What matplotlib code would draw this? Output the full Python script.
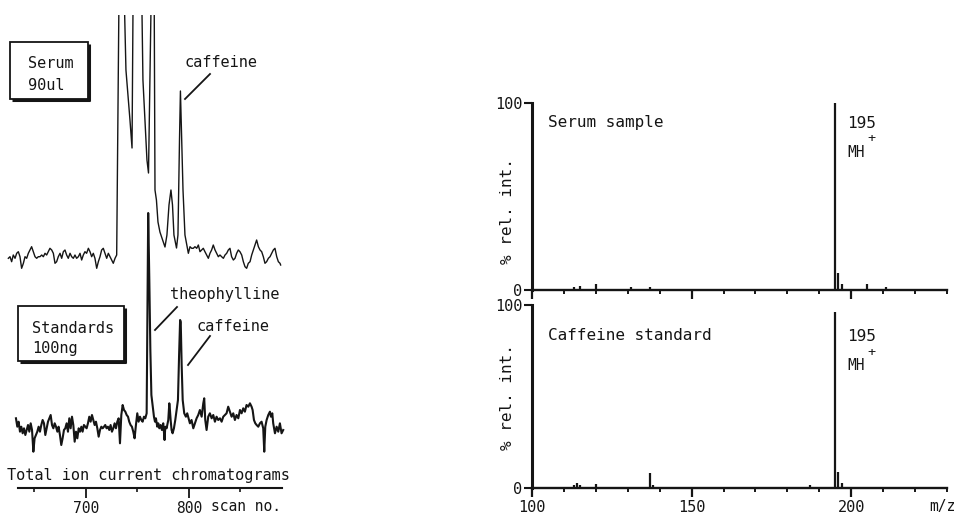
import numpy as np
import matplotlib
matplotlib.use("Agg")
import matplotlib.pyplot as plt
from matplotlib.patches import Rectangle

# ---------------- data ----------------
# Total ion current chromatograms: (scan number, intensity in arbitrary units)
serum_tic = [
    (624.6, 13.7), (626.2, 15.3), (627.8, 10.3), (629.4, 17), (631.1, 13.7), (632.7, 18.7),
    (634.3, 20.3), (635.9, 15.3), (637.5, 3.7), (639.2, 8.7), (640.8, 15.3), (642.4, 13.7),
    (644.0, 18.7), (645.6, 22), (647.2, 25.3), (648.9, 20.3), (650.5, 15.3), (652.1, 13.7),
    (653.7, 15.3), (655.3, 15.3), (657.0, 17), (658.6, 15.3), (660.2, 18.7), (661.8, 17),
    (663.4, 20.3), (665.0, 23.7), (666.7, 22), (668.3, 18.7), (669.9, 8.7), (671.5, 10.3),
    (673.1, 15.3), (674.8, 18.7), (676.4, 13.7), (678.0, 20.3), (679.6, 22), (681.2, 17),
    (682.8, 13.7), (684.5, 18.7), (686.1, 15.3), (687.7, 13.7), (689.3, 17), (690.9, 13.7),
    (692.6, 15.3), (694.2, 18.7), (695.8, 12), (697.4, 17), (699.0, 20.3), (700.6, 18.7),
    (702.3, 23.7), (703.9, 20.3), (705.5, 15.3), (707.1, 18.7), (708.7, 13.7), (710.4, 3.7),
    (712.0, 10.3), (713.6, 15.3), (715.2, 22), (716.8, 23.7), (718.4, 18.7), (720.1, 13.7),
    (721.7, 18.7), (723.3, 15.3), (724.9, 12), (726.5, 8.7), (728.2, 13.7), (729.8, 17),
    (732.5, 330), (735.9, 330), (738.8, 202), (740.8, 177), (742.7, 152), (744.7, 124),
    (746.1, 330), (753.4, 330), (755.3, 192), (757.3, 152), (759.2, 112), (760.7, 99),
    (764.1, 330), (766.0, 330), (767.0, 82), (768.4, 72), (769.9, 50), (771.8, 40),
    (773.8, 34), (776.7, 25), (778.6, 37), (780.6, 67), (782.5, 82), (784.0, 67),
    (785.4, 37), (787.9, 24), (789.3, 37), (790.8, 132), (791.7, 181), (792.7, 142),
    (794.2, 82), (796.1, 37),
    (799.4, 18.7), (801.0, 25.3), (802.6, 23.7), (804.2, 23.7), (805.8, 25.3), (807.5, 23.7),
    (809.1, 27), (810.7, 20.3), (812.3, 22), (813.9, 23.7), (815.5, 20.3), (817.2, 17),
    (818.8, 13.7), (820.4, 18.7), (822.0, 22), (823.6, 27), (825.3, 22), (826.9, 18.7),
    (828.5, 15.3), (830.1, 17), (831.7, 15.3), (833.4, 13.7), (835.0, 17), (836.6, 18.7),
    (838.2, 22), (839.8, 23.7), (841.4, 15.3), (843.1, 12), (844.7, 13.7), (846.3, 18.7),
    (847.9, 22), (849.5, 20.3), (851.2, 17), (852.8, 10.3), (854.4, 5.3), (856.0, 3.7),
    (857.6, 8.7), (859.3, 10.3), (860.9, 17), (862.5, 22), (864.1, 27), (865.7, 32),
    (867.4, 25.3), (869.0, 22), (870.6, 20.3), (872.2, 15.3), (873.8, 8.7), (875.4, 10.3),
    (877.1, 13.7), (878.7, 15.3), (880.3, 18.7), (881.9, 22), (883.5, 23.7), (885.2, 15.3),
    (886.8, 10.3), (888.4, 8.7), (889.0, 7),
]

standards_tic = [
    (632.0, 21.7), (633.3, 13.3), (634.6, 18.3), (635.9, 8.3), (637.2, 13.3), (638.5, 6.7),
    (639.8, 11.7), (641.1, 5), (642.4, 10), (643.7, 15), (645.0, 8.3), (646.3, 16.7),
    (647.6, 10), (648.9, -11.7), (650.1, 1.7), (651.4, 5), (652.7, 8.3), (654.0, 13.3),
    (655.3, 8.3), (656.6, 15), (657.9, 20), (659.2, 16.7), (660.5, 5), (661.8, 11.7),
    (663.1, 18.3), (664.4, 21.7), (665.7, 25), (667.0, 15), (668.3, 11.7), (669.6, 16.7),
    (670.9, 13.3), (672.2, 8.3), (673.4, 13.3), (674.7, 5), (676.0, -5), (677.3, 1.7),
    (678.6, 10), (679.9, 11.7), (681.2, 16.7), (682.5, 8.3), (683.8, 21.7), (685.1, 11.7),
    (686.4, 23.3), (687.7, 15), (689.0, -1.7), (690.3, 8.3), (691.6, 1.7), (692.9, 11.7),
    (694.2, 8.3), (695.5, 13.3), (696.7, 8.3), (698.0, 15), (699.3, 13.3), (700.6, 11.7),
    (701.9, 16.7), (703.2, 23.3), (704.5, 18.3), (705.8, 25), (707.1, 20), (708.4, 15),
    (709.7, 18.3), (711.0, 11.7), (712.3, 3.3), (713.6, 10), (714.9, 13.3), (716.2, 11.7),
    (717.5, 13.3), (718.7, 15), (720.0, 11.7), (721.3, 13.3), (722.6, 10), (723.9, 15),
    (725.2, 8.3), (726.5, 11.7), (727.8, 16.7), (729.1, 11.7), (730.4, 18.3), (731.7, 21.7),
    (733.0, -3.3), (734.3, 25), (735.6, 35), (736.9, 30), (738.2, 28.3), (739.5, 25),
    (740.8, 23.3), (742.0, 18.3), (743.3, 15), (744.6, 13.3), (745.9, 8.3), (747.2, 1.7),
    (748.5, 15), (749.8, 26.7), (751.1, 18.3), (752.4, 23.3), (753.7, 20), (755.0, 18.3),
    (756.3, 23.3), (757.6, 21.7), (758.9, 26.7),
    (760.4, 227), (761.5, 160), (762.5, 90), (763.5, 45),
    (766.0, 23.3), (767.0, 18.3), (767.9, 21.7), (769.2, 13.3), (770.2, 16.7), (771.2, 11.7),
    (772.5, 15), (773.7, 10), (775.0, 16.7), (776.3, 0), (777.0, 13.3), (778.3, 11.7),
    (779.9, 20), (780.9, 36.7), (781.5, 30), (782.2, 20), (783.1, 10), (784.1, 6.7),
    (785.4, 11.7), (786.7, 20), (788.0, 30), (789.3, 40),
    (790.4, 85), (791.4, 120), (792.0, 118), (792.9, 75), (793.9, 40),
    (795.4, 26.7), (797.0, 23.3), (798.3, 26.7), (799.6, 21.7), (800.9, 16.7), (802.5, 20),
    (804.2, 11.7), (805.8, 16.7), (807.4, 21.7), (809.0, 25), (810.6, 30), (812.3, 23.3),
    (813.9, 36.7), (814.8, 41.7), (815.8, 20), (817.1, 10), (818.7, 23.3), (820.3, 26.7),
    (822.0, 21.7), (823.6, 25), (825.2, 18.3), (826.8, 23.3), (828.4, 20), (830.1, 21.7),
    (831.7, 18.3), (833.3, 23.3), (834.9, 25), (836.5, 26.7), (838.1, 33.3), (839.8, 28.3),
    (841.4, 23.3), (843.0, 26.7), (844.6, 20), (846.2, 25), (847.9, 21.7), (849.5, 30),
    (851.1, 26.7), (852.7, 31.7), (854.3, 28.3), (855.9, 35), (857.6, 33.3), (859.2, 36.7),
    (860.8, 33.3), (861.8, 30), (863.1, 20), (864.4, 16.7), (865.7, 15), (867.3, 13.3),
    (868.9, 16.7), (870.5, 18.3), (872.1, 11.7), (873.1, -11.7), (874.1, 13.3), (875.4, 20),
    (877.0, 25), (878.6, 28.3), (879.6, 23.3), (880.9, 26.7), (881.8, 16.7), (883.5, 6.7),
    (885.1, 13.3), (886.7, 8.3), (888.3, 16.7), (889.9, 6.7), (891.5, 10),
]

scan_ticks = [700, 800]
scan_minor = [650, 750, 850]

# Mass spectra (m/z, % relative intensity)
serum_mz = [113, 115, 120, 131, 137, 195, 196, 197, 205, 211]
serum_int = [1.5, 2, 3, 1.5, 1.5, 100, 9, 3, 3, 1.5]
standard_mz = [113, 114, 115, 120, 137, 138, 187, 195, 196, 197]
standard_int = [1.5, 2.5, 1.5, 2, 8, 1.5, 1.5, 96, 9, 3]
mz_ticks = [100, 150, 200]
mz_minor = [110, 120, 130, 140, 160, 170, 180, 190, 210, 220, 230]

# ---------------- layout ----------------
W, H = 964, 515
FONT = "DejaVu Sans Mono"
plt.rcParams["font.family"] = [FONT, "DejaVu Sans"]
INK = "#151515"
PT = 72 / 100.0  # points per pixel at dpi 100

fig = plt.figure(figsize=(W / 100, H / 100), dpi=100)
fig.patch.set_facecolor("white")


def rect(x0, y0, x1, y1):
    return [x0 / W, 1 - y1 / H, (x1 - x0) / W, (y1 - y0) / H]


# ---- left: chromatograms ----
ax1 = fig.add_axes(rect(0, 15, 290, 488))
ax1.set_xlim(616.5, 898.1)
ax1.set_ylim(0, 473)
upper_off, lower_off = 216, 48
us, ui = zip(*serum_tic)
ls, li = zip(*standards_tic)
ax1.plot(us, np.array(ui) + upper_off, color=INK, lw=1.0, solid_joinstyle="round")
ax1.plot(ls, np.array(li) + lower_off, color=INK, lw=1.5, solid_joinstyle="round")
for s in ["left", "right", "top"]:
    ax1.spines[s].set_visible(False)
ax1.spines["bottom"].set_bounds(634, 890)
ax1.spines["bottom"].set_linewidth(1.5)
ax1.spines["bottom"].set_color(INK)
ax1.set_yticks([])
ax1.set_xticks(scan_ticks)
ax1.set_xticklabels([str(t) for t in scan_ticks], fontsize=10.5, color=INK)
ax1.set_xticks(scan_minor, minor=True)
ax1.tick_params(axis="x", which="major", direction="out", length=10 * PT, width=1.3,
                color=INK, pad=2)
ax1.tick_params(axis="x", which="minor", direction="out", length=4 * PT, width=1.2, color=INK)
ax1.patch.set_alpha(0)


# ---- right: mass spectra ----
def spectrum_axes(y_top, y_bot, mz, inten, show_labels):
    ax = fig.add_axes(rect(532, y_top, 947, y_bot))
    ax.set_xlim(100, 230)
    ax.set_ylim(0, 100)
    ax.vlines(mz, 0, inten, color=INK, lw=1.6)
    for s in ["right", "top"]:
        ax.spines[s].set_visible(False)
    ax.spines["left"].set_linewidth(2.2)
    ax.spines["bottom"].set_linewidth(1.7)
    ax.spines["left"].set_color(INK)
    ax.spines["bottom"].set_color(INK)
    ax.set_yticks([0, 100])
    ax.set_yticklabels(["0", "100"], fontsize=11, color=INK)
    ax.tick_params(axis="y", direction="out", length=8 * PT, width=1.5, color=INK, pad=1)
    ax.set_xticks(mz_ticks)
    ax.set_xticks(mz_minor, minor=True)
    ax.tick_params(axis="x", which="major", direction="out", length=9 * PT, width=1.6,
                   color=INK, pad=2)
    ax.tick_params(axis="x", which="minor", direction="out", length=4 * PT, width=1.4, color=INK)
    if show_labels:
        ax.set_xticklabels([str(t) for t in mz_ticks], fontsize=11, color=INK)
    else:
        ax.set_xticklabels([])
    ax.patch.set_alpha(0)
    return ax


ax2 = spectrum_axes(103, 290, serum_mz, serum_int, False)
ax3 = spectrum_axes(305, 488, standard_mz, standard_int, True)

# ---- overlay for annotations (pixel coordinates) ----
ov = fig.add_axes([0, 0, 1, 1], zorder=10)
ov.set_xlim(0, W)
ov.set_ylim(H, 0)
ov.axis("off")
ov.patch.set_alpha(0)


def txt(x, y, s, size=11, **kw):
    kw.setdefault("va", "baseline")
    ov.text(x, y, s, fontsize=size, color=INK, **kw)


def box(x0, y0, x1, y1):
    ov.add_patch(Rectangle((x0, y0), x1 - x0, y1 - y0, fill=False, ec=INK, lw=1.3))
    ov.plot([x1 + 1, x1 + 1], [y0 + 2, y1 + 1.5], color=INK, lw=2.2, solid_capstyle="butt")
    ov.plot([x0 + 2, x1 + 2], [y1 + 1, y1 + 1], color=INK, lw=2.2, solid_capstyle="butt")


box(10, 42, 88, 99)
txt(28, 68, "Serum")
txt(28, 90, "90ul")
txt(185, 67, "caffeine")
ov.plot([185, 210], [99, 74], color=INK, lw=1.3)

box(18, 306, 124, 361)
txt(32, 333, "Standards")
txt(32, 353, "100ng")
txt(170, 299.5, "theophylline")
ov.plot([155, 177], [330, 307], color=INK, lw=1.3)
txt(197, 331, "caffeine")
ov.plot([188, 210], [365, 336], color=INK, lw=1.3)

txt(148, 480, "Total ion current chromatograms", ha="center")
txt(211, 514, "scan no.", size=10.5, va="bottom")

# spectra annotations
txt(548, 127, "Serum sample", size=11.5)
txt(847, 128, "195", size=11.5)
txt(847, 157, "MH", size=10.5)
txt(867, 142, "+", size=9.5)

txt(548, 340, "Caffeine standard", size=11.5)
txt(847, 341, "195", size=11.5)
txt(847, 370, "MH", size=10.5)
txt(867, 356, "+", size=9.5)

ov.text(507, 211, "% rel. int.", fontsize=11.5, color=INK, rotation=90, ha="center", va="center")
ov.text(507, 397, "% rel. int.", fontsize=11.5, color=INK, rotation=90, ha="center", va="center")
txt(929, 514, "m/z", size=10.5, va="bottom")

fig.savefig("out.png", dpi=100, facecolor="white")
